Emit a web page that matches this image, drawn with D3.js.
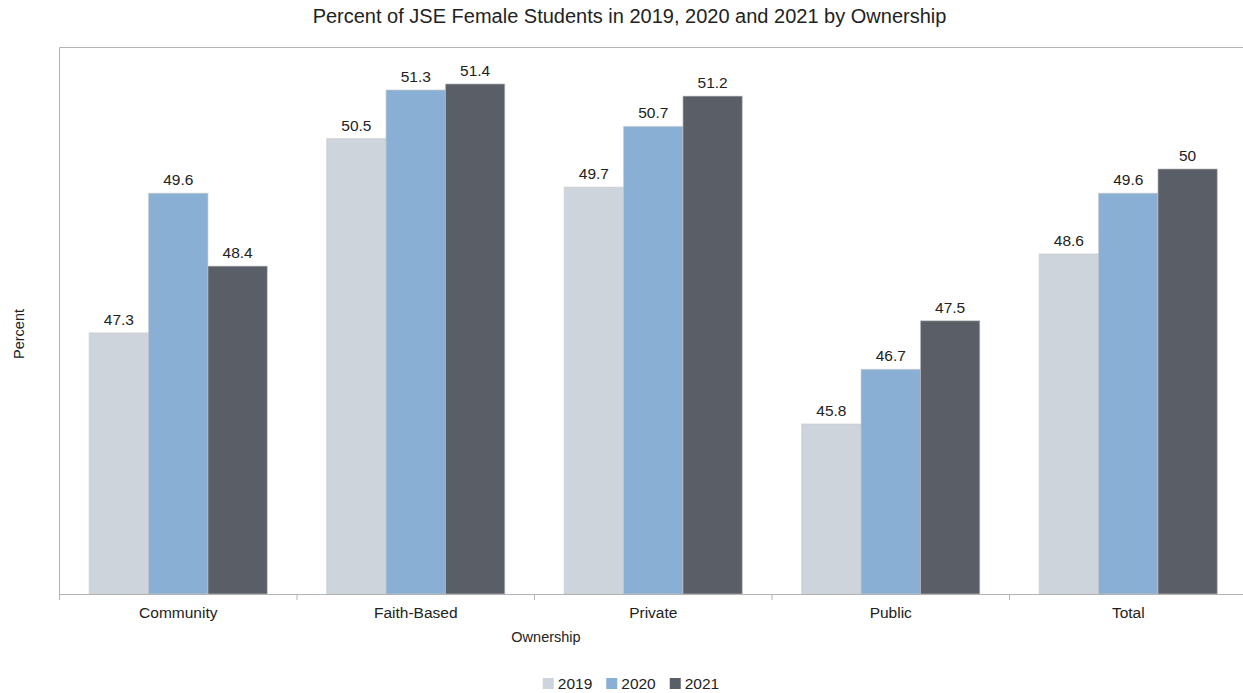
<!DOCTYPE html>
<html>
<head>
<meta charset="utf-8">
<script src="https://cdn.jsdelivr.net/npm/d3@7"></script>
<style>
  html, body { margin: 0; padding: 0; background: #fff; }
  svg { display: block; font-family: "Liberation Sans", Arial, sans-serif; }
</style>
</head>
<body>
<svg id="chart" width="1243" height="693"></svg>
<script>
const categories = ["Community", "Faith-Based", "Private", "Public", "Total"];
const seriesNames = ["2019", "2020", "2021"];
const values2019 = [47.3, 50.5, 49.7, 45.8, 48.6];
const values2020 = [49.6, 51.3, 50.7, 46.7, 49.6];
const values2021 = [48.4, 51.4, 51.2, 47.5, 50];
const seriesColors = ["#cdd4dc", "#8aafd5", "#5a5f67"];
const titleText = "Percent of JSE Female Students in 2019, 2020 and 2021 by Ownership";
const xTitle = "Ownership";
const yTitle = "Percent";
const yDomain = [43, 52];

const seriesValues = [values2019, values2020, values2021];
const svg = d3.select("#chart");
const W = 1243, H = 693;
const plot = { left: 59.5, right: 1247, top: 47.5, bottom: 594 };

const x0 = d3.scaleBand().domain(categories).range([plot.left, plot.right]).padding(0);
const x1 = d3.scaleBand().domain(seriesNames).range([0, x0.bandwidth()]).paddingInner(0).paddingOuter(0.5);
const y = d3.scaleLinear().domain(yDomain).range([plot.bottom, plot.top]);
const color = d3.scaleOrdinal().domain(seriesNames).range(seriesColors);

// frame (top and left)
svg.append("line").attr("x1", plot.left).attr("x2", plot.right).attr("y1", plot.top).attr("y2", plot.top)
  .attr("stroke", "#b3b3b3").attr("stroke-width", 1);
svg.append("line").attr("x1", plot.left).attr("x2", plot.left).attr("y1", plot.top).attr("y2", plot.bottom)
  .attr("stroke", "#b3b3b3").attr("stroke-width", 1);

// bars
const groups = svg.append("g").selectAll("g").data(categories).join("g")
  .attr("transform", d => `translate(${x0(d)},0)`);
groups.selectAll("rect")
  .data((c, i) => seriesNames.map((s, j) => ({ s, v: seriesValues[j][i] })))
  .join("rect")
  .attr("x", d => x1(d.s))
  .attr("y", d => y(d.v))
  .attr("width", x1.bandwidth())
  .attr("height", d => plot.bottom - y(d.v))
  .attr("fill", d => color(d.s))
  .attr("stroke", "rgba(200,200,200,0.6)")
  .attr("stroke-width", 1);

groups.selectAll("text.val")
  .data((c, i) => seriesNames.map((s, j) => ({ s, v: seriesValues[j][i] })))
  .join("text")
  .attr("class", "val")
  .attr("x", d => x1(d.s) + x1.bandwidth() / 2)
  .attr("y", d => y(d.v) - 8)
  .attr("text-anchor", "middle")
  .attr("font-size", "15.5px")
  .attr("fill", "#222")
  .text(d => String(d.v));

// x axis
const xAxis = d3.axisBottom(x0).tickSize(0).tickPadding(13);
const ax = svg.append("g").attr("transform", `translate(0,${plot.bottom})`).call(xAxis);
ax.select(".domain").attr("stroke", "#b3b3b3").attr("d", `M${plot.left},0.5H${plot.right}`);
ax.selectAll(".tick text").attr("font-size", "15.5px").attr("fill", "#222")
  .attr("font-family", "Liberation Sans, Arial, sans-serif");
// boundary ticks
const bounds = categories.map(c => x0(c));
ax.selectAll("line.bnd").data(bounds).join("line").attr("class", "bnd")
  .attr("x1", d => d).attr("x2", d => d).attr("y1", 0).attr("y2", 6)
  .attr("stroke", "#b3b3b3");

// titles
svg.append("text").attr("x", 629.5).attr("y", 23).attr("text-anchor", "middle")
  .attr("font-size", "20px").attr("fill", "#222").text(titleText);
svg.append("text").attr("x", 546).attr("y", 642).attr("text-anchor", "middle")
  .attr("font-size", "14.5px").attr("fill", "#222").text(xTitle);
svg.append("text").attr("transform", "translate(24,334) rotate(-90)").attr("text-anchor", "middle")
  .attr("font-size", "14.5px").attr("fill", "#222").text(yTitle);

// legend
const leg = svg.append("g");
let lx = 0;
const items = [];
seriesNames.forEach((s, i) => {
  const g = leg.append("g").attr("transform", `translate(${lx},0)`);
  g.append("rect").attr("x", 0).attr("y", -11).attr("width", 11).attr("height", 11).attr("fill", color(s));
  const t = g.append("text").attr("x", 15).attr("y", 0).attr("font-size", "15.5px").attr("fill", "#222").text(s);
  const w = t.node().getComputedTextLength();
  lx += 15 + w + 14;
});
const totalW = lx - 14;
leg.attr("transform", `translate(${631 - totalW / 2},689)`);
</script>
</body>
</html>
